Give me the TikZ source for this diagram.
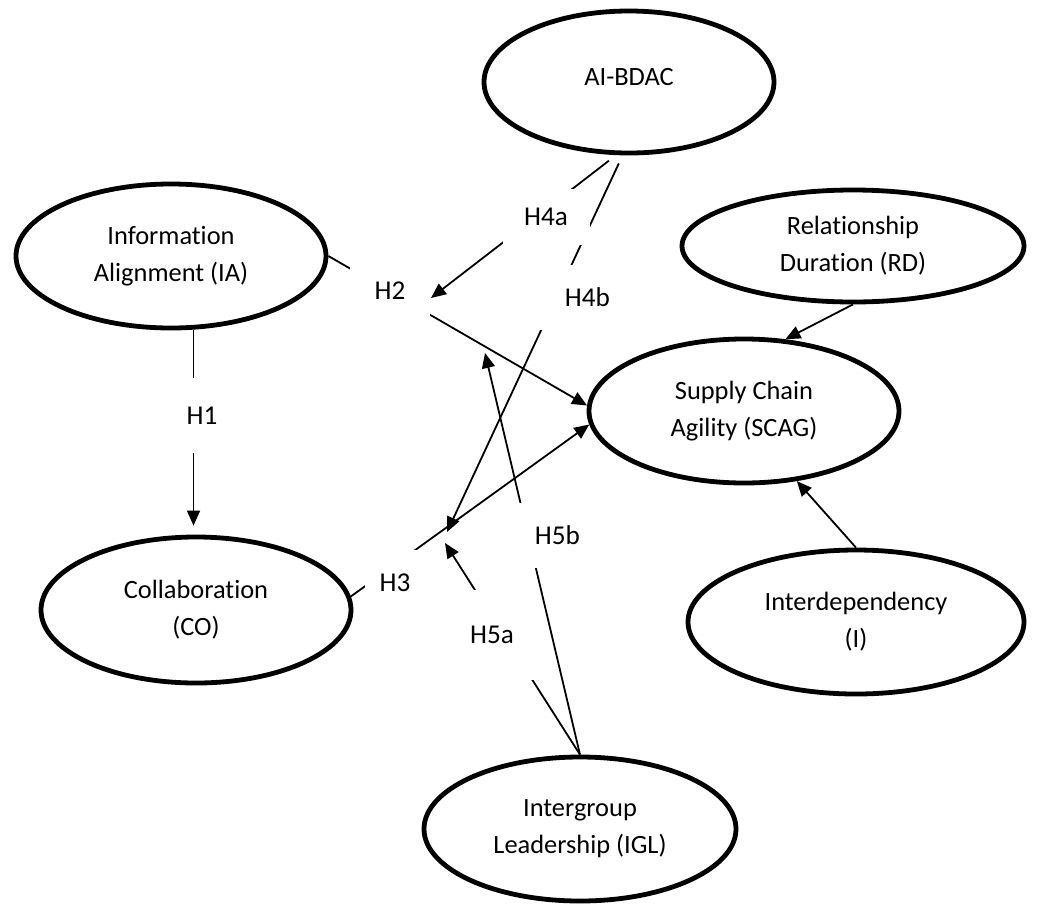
\documentclass[tikz,border=0pt]{standalone}
\usepackage{fontspec}
\setmainfont{Carlito}[Ligatures=NoCommon]
\usetikzlibrary{arrows.meta,shapes.geometric}

\newcommand{\constructfont}{\fontsize{13.2pt}{18.5pt}\selectfont}
\newcommand{\hypfont}{\fontsize{13.6pt}{16pt}\selectfont}

\begin{document}
\begin{tikzpicture}
  [x=0.5pt,y=-0.5pt,>={Triangle[length=7.5pt,width=6.5pt]},
   construct/.style={ellipse,draw,line width=2.4pt,inner sep=0pt,align=center,font=\constructfont},
   hyp/.style={fill=white,inner sep=0pt,font=\hypfont},
   link/.style={line width=0.9pt}]
  \useasboundingbox (0,0) rectangle (1039,906);

  \node[construct,minimum width=145pt,minimum height=71pt] (ai)   at (629,82)  {\raisebox{5pt}{AI-BDAC}};
  \node[construct,minimum width=155pt,minimum height=72pt] (ia)   at (171,256) {Information\\Alignment (IA)};
  \node[construct,minimum width=155pt,minimum height=73pt] (co)   at (196,610) {Collaboration\\(CO)};
  \node[construct,minimum width=171pt,minimum height=56pt] (rd)   at (853,246) {Relationship\\Duration (RD)};
  \node[construct,minimum width=155pt,minimum height=72pt] (scag) at (744,411) {Supply Chain\\Agility (SCAG)};
  \node[construct,minimum width=168pt,minimum height=72pt] (int)  at (856,622) {Interdependency\\(I)};
  \node[construct,minimum width=156pt,minimum height=72pt] (igl)  at (580,829) {Intergroup\\Leadership (IGL)};

  % moderator arrows end on the direct paths
  \coordinate (m4a) at (431,298);
  \coordinate (m4b) at (447,532);
  \coordinate (m5a) at (445,543);
  \coordinate (m5b) at (485,353);

  \foreach \from/\to in {ia.east/scag.178, co.5/scag.185, rd.south/scag.60, int.north/scag.-53, igl.north/m5a, igl.north/m5b}
    \draw[link,->] (\from) -- (\to);
  \foreach \from/\to in {ai.-100/m4a, ai.-95/m4b}
    \draw[link,->,shorten <=4.5pt] (\from) -- (\to);
  \draw[link,->,shorten >=4.5pt] (ia.-73) -- (ia.-73 |- co.north);

  % hypothesis labels break the lines
  \node[hyp,minimum width=30pt,minimum height=37.5pt]   (h1)  at (202,415.5) {H1};
  \node[hyp,minimum width=40pt,minimum height=29pt]     (h2)  at (390,291)   {H2};
  \node[hyp,minimum width=30pt,minimum height=33pt]     (h3)  at (395,583)   {H3};
  \node[hyp,minimum width=43.5pt,minimum height=28pt]   (h4a) at (546,217) {H4a};
  \node[hyp,minimum width=47.5pt,minimum height=32.5pt] (h4b) at (587.5,297.5) {H4b};
  \node[hyp,minimum width=42pt,minimum height=45pt]     (h5a) at (492,635)   {H5a};
  \node[hyp,minimum width=52.5pt,minimum height=32.5pt] (h5b) at (557.5,535.5) {H5b};
\end{tikzpicture}
\end{document}
